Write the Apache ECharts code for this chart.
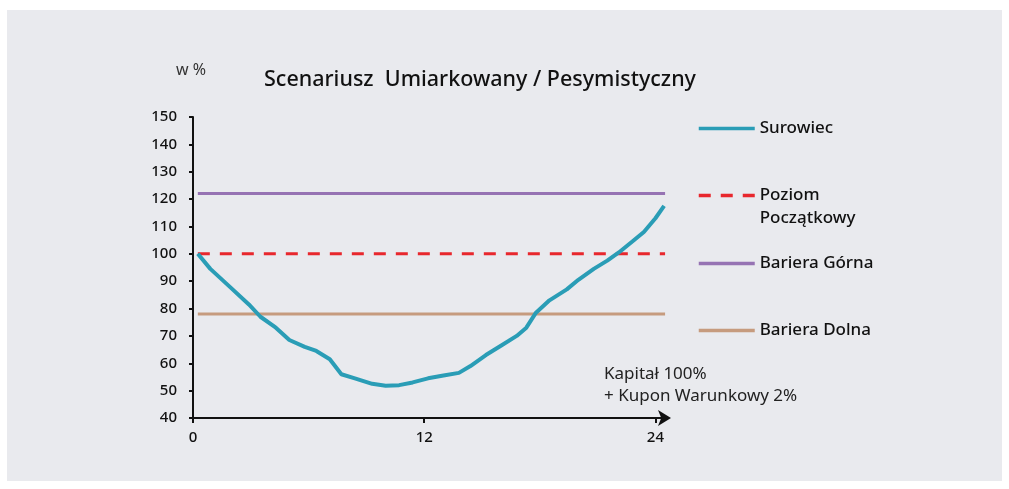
<!DOCTYPE html>
<html>
<head>
<meta charset="utf-8">
<script src="https://cdn.jsdelivr.net/npm/echarts@6/dist/echarts.min.js"></script>
<style>
  html, body { margin: 0; padding: 0; background: #fff; }
  #main { width: 1009px; height: 489px; }
</style>
</head>
<body>
<div id="main"></div>
<script>
// dane (miesiące, % wartości początkowej)
var months = [0.25, 0.9, 1.9, 2.9, 3.5, 4.3, 5.0, 5.8, 6.4, 7.1, 7.7, 8.4, 9.3, 10.0, 10.7, 11.4, 12.2, 13.0, 13.8, 14.4, 15.2, 16.0, 16.8, 17.3, 17.8, 18.5, 19.4, 20.0, 20.8, 21.5, 22.1, 22.8, 23.4, 24.0, 24.45];
var surowiec = [100, 94.5, 88, 81.5, 77, 73, 68.5, 66, 64.5, 61.5, 56, 54.5, 52.5, 51.8, 52, 53, 54.5, 55.5, 56.5, 59, 63, 66.5, 70, 73, 78.5, 83, 87, 90.5, 94.5, 97.5, 100.5, 104.5, 108, 113, 117.5];
var lineSpan = [0.25, 24.5];
var poziomPoczatkowy = 100;
var barieraGorna = 122;
var barieraDolna = 78;
var xTicks = [0, 12, 24];

var names = ['Surowiec', 'Poziom Początkowy', 'Bariera Górna', 'Bariera Dolna'];

function flat(v) {
    return lineSpan.map(function (t) { return [t, v]; });
}

var myChart = echarts.init(document.getElementById('main'));

var textFont = '"Noto Sans", sans-serif';

function legendAt(name, top, fmt) {
    return {
        data: [name],
        left: 697,
        top: top,
        orient: 'vertical',
        itemWidth: 56,
        itemHeight: 20,
        itemGap: 0,
        padding: 0,
        itemStyle: { opacity: 0 },
        lineStyle: { width: 3.5 },
        formatter: fmt || '{name}',
        textStyle: {
            fontFamily: textFont,
            fontSize: 17,
            fontWeight: 500,
            color: '#111',
            lineHeight: 23
        }
    };
}

var option = {
    backgroundColor: '#fff',
    animation: false,
    graphic: [{
        type: 'rect',
        z: -10,
        shape: { x: 7, y: 10, width: 995, height: 471 },
        style: { fill: '#e9eaee' }
    }, {
        type: 'text',
        left: 176,
        top: 62,
        style: { text: 'w %', font: '16px "Noto Sans", sans-serif', fill: '#333' }
    }, {
        type: 'text',
        left: 604,
        top: 363,
        style: {
            text: 'Kapitał 100%\n+ Kupon Warunkowy 2%',
            font: '17px "Noto Sans", sans-serif',
            lineHeight: 22,
            fill: '#222'
        }
    }],
    title: {
        text: 'Scenariusz  Umiarkowany / Pesymistyczny',
        left: 264,
        top: 69,
        padding: 0,
        textStyle: {
            fontFamily: textFont,
            fontSize: 21.5,
            fontWeight: 500,
            color: '#111'
        }
    },
    legend: [
        legendAt(names[0], 117),
        // pusta pierwsza linia: ikona wypada na wysokości "Poziom"
        legendAt(names[1], 161, '\nPoziom\nPoczątkowy'),
        legendAt(names[2], 252),
        legendAt(names[3], 319)
    ],
    grid: {
        left: 193,
        right: 342,
        top: 117,
        bottom: 71,
        containLabel: false
    },
    xAxis: {
        type: 'value',
        min: 0,
        max: 24.6,
        interval: 12,
        splitLine: { show: false },
        axisLine: {
            lineStyle: { color: '#111', width: 2 },
            symbol: ['none', 'arrow'],
            symbolSize: [12, 13],
            symbolOffset: [0, 4]
        },
        axisTick: {
            customValues: xTicks,
            length: 5,
            lineStyle: { color: '#111', width: 2 }
        },
        axisLabel: {
            customValues: xTicks,
            margin: 12,
            fontFamily: textFont,
            fontSize: 15,
            fontWeight: 500,
            color: '#111'
        }
    },
    yAxis: {
        type: 'value',
        min: 40,
        max: 150,
        interval: 10,
        splitLine: { show: false },
        axisLine: { show: true, lineStyle: { color: '#111', width: 2 } },
        axisTick: { show: true, length: 4, lineStyle: { color: '#111', width: 2 } },
        axisLabel: {
            margin: 16,
            fontFamily: textFont,
            fontSize: 15,
            fontWeight: 500,
            color: '#111'
        }
    },
    series: [{
        name: names[0],
        type: 'line',
        symbol: 'none',
        data: months.map(function (t, i) { return [t, surowiec[i]]; }),
        itemStyle: { color: '#2a9db6' },
        lineStyle: { color: '#2a9db6', width: 4 },
        z: 5
    }, {
        name: names[1],
        type: 'line',
        symbol: 'none',
        data: flat(poziomPoczatkowy),
        itemStyle: { color: '#e8272d' },
        lineStyle: { color: '#e8272d', width: 3, type: [12, 10] },
        z: 4
    }, {
        name: names[2],
        type: 'line',
        symbol: 'none',
        data: flat(barieraGorna),
        itemStyle: { color: '#9673b3' },
        lineStyle: { color: '#9673b3', width: 3 },
        z: 3
    }, {
        name: names[3],
        type: 'line',
        symbol: 'none',
        data: flat(barieraDolna),
        itemStyle: { color: '#c69b7e' },
        lineStyle: { color: '#c69b7e', width: 3 },
        z: 3
    }]
};

myChart.setOption(option);
</script>
</body>
</html>
